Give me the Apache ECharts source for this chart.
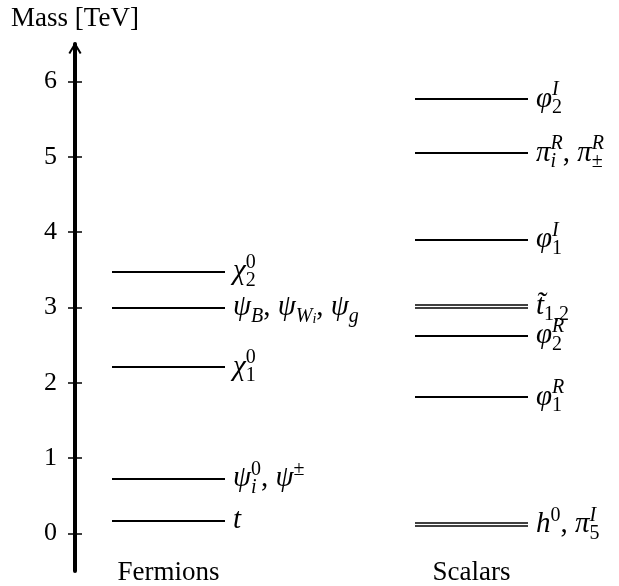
<!DOCTYPE html>
<html>
<head>
<meta charset="utf-8">
<script src="https://cdn.jsdelivr.net/npm/echarts@6/dist/echarts.min.js"></script>
<style>
  html, body { margin: 0; padding: 0; background: #fff; }
  #chart { width: 619px; height: 586px; }
</style>
</head>
<body>
<div id="chart"></div>
<script>
// mass ticks, column names
var massTicks = [0, 1, 2, 3, 4, 5, 6];
var columns = ['Fermions', 'Scalars'];

// each level may hold 2 nearly degenerate states
var fermionMasses = [[0.17], [0.73], [2.21], [3.00], [3.48]];
var fermionLabels = [
    '{m|t}',
    '{m|ψ}{zsbi|i}{sp|0}{r|, }{m|ψ}{sp|±}',
    '{m|χ}{zsb|1}{sp|0}',
    '{m|ψ}{sbi|B}{r|, }{m|ψ}{sbi|W}{ssi|i}{r|, }{m|ψ}{sbi|g}',
    '{m|χ}{zsb|2}{sp|0}'
];
var scalarMasses = [[0.10, 0.14], [1.81], [2.63], [3.00, 3.04], [3.90], [5.05], [5.77]];
var scalarLabels = [
    '{m|h}{sp|0}{r|, }{m|π}{zsb|5}{spi|I}',
    '{m|φ}{zsb|1}{spi|R}',
    '{m|φ}{zsb|2}{spi|R}',
    '{m|t̃}{sb|1,2}',
    '{m|φ}{zsb|1}{spi|I}',
    '{m|π}{zsbi|i}{spi|R}{r|, }{m|π}{zsb|±}{spi|R}',
    '{m|φ}{zsb|2}{spi|I}'
];

(function () {
    'use strict';
    var FONT = '"Liberation Serif", "Times New Roman", serif';
    var span = {Fermions: [37, 150], Scalars: [340, 453]};  // x extent of each column, grid units

    function script(up, italic, zero, size) {
        var s = {
            fontFamily: FONT, fontSize: size || 20, color: '#000',
            fontStyle: italic ? 'italic' : 'normal',
            verticalAlign: up ? 'top' : 'bottom',
            lineHeight: size ? 10 : 20
        };
        if (zero) s.width = 0;
        return s;
    }
    var rich = {
        m: {fontFamily: FONT, fontSize: 29, fontStyle: 'italic', color: '#000', lineHeight: 38},
        r: {fontFamily: FONT, fontSize: 29, color: '#000', lineHeight: 38},
        sp: script(true, false), spi: script(true, true),
        sb: script(false, false), sbi: script(false, true),
        zsb: script(false, false, true), zsbi: script(false, true, true),
        ssi: script(false, true, false, 14)
    };

    function buildLines(col, masses) {
        var out = [];
        masses.forEach(function (lv) {
            var w = lv.length > 1 ? 1.7 : 2;
            lv.forEach(function (v) {
                out.push({coords: [[span[col][0], v], [span[col][1], v]], lineStyle: {width: w}});
            });
        });
        return out;
    }
    function buildLabels(col, masses, labels) {
        return masses.map(function (lv, i) {
            var mean = lv.reduce(function (a, b) { return a + b; }, 0) / lv.length;
            return {value: [span[col][1], mean], name: labels[i]};
        });
    }
    function levelSeries(col, masses, labels) {
        return [{
            type: 'lines', coordinateSystem: 'cartesian2d', polyline: false, silent: true,
            lineStyle: {color: '#000', opacity: 1},
            data: buildLines(col, masses)
        }, {
            type: 'scatter', symbolSize: 0, silent: true,
            itemStyle: {opacity: 1},
            label: {
                show: true, position: 'right', distance: 8, color: '#000',
                formatter: function (p) { return p.name; },
                rich: rich
            },
            data: buildLabels(col, masses, labels)
        }];
    }

    var centers = columns.map(function (c) { return (span[c][0] + span[c][1]) / 2; });
    var chart = echarts.init(document.getElementById('chart'));
    var tickStyle = {show: true, length: 7, customValues: massTicks, lineStyle: {color: '#000', width: 1.5}};
    chart.setOption({
        animation: false,
        grid: {left: 75, top: 44, width: 500, height: 530},
        xAxis: {
            type: 'value', min: 0, max: 500,
            axisLine: {show: false}, axisTick: {show: false}, splitLine: {show: false},
            axisLabel: {
                customValues: centers, margin: -12,
                fontFamily: FONT, fontSize: 27, color: '#000',
                formatter: function (v) { return columns[centers.indexOf(v)] || ''; }
            }
        },
        yAxis: [{
            type: 'value', min: -0.5, max: 6.5,
            name: 'Mass [TeV]', nameLocation: 'end', nameGap: 12,
            nameTextStyle: {fontFamily: FONT, fontSize: 27, color: '#000', align: 'center'},
            axisLine: {
                show: true, symbol: ['none', 'path://M0,10 L6,0 L12,10 L10.4,11 L6,3.6 L1.6,11 Z'],
                symbolSize: [15, 12], symbolOffset: [0, -4],
                lineStyle: {color: '#000', width: 4}
            },
            axisTick: tickStyle,
            axisLabel: {customValues: massTicks, margin: 18, fontFamily: FONT, fontSize: 26, color: '#000'},
            splitLine: {show: false}
        }, {
            type: 'value', min: -0.5, max: 6.5, position: 'left',
            axisLine: {show: false},
            axisTick: Object.assign({}, tickStyle, {inside: true}),
            axisLabel: {show: false}, splitLine: {show: false}
        }],
        series: levelSeries('Fermions', fermionMasses, fermionLabels)
            .concat(levelSeries('Scalars', scalarMasses, scalarLabels))
    });
})();
</script>
</body>
</html>
